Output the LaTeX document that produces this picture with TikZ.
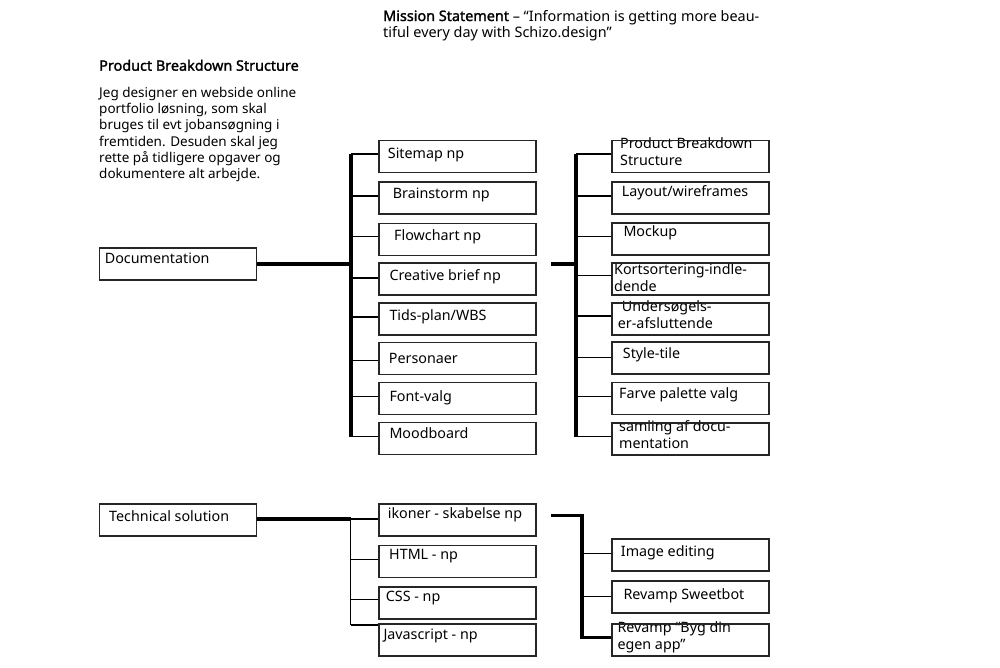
\documentclass[tikz,border=0pt]{standalone}
\usepackage{fontspec}
\setmainfont{Noto Sans}
\newfontfamily\pbsheadfont{Noto Sans}[FakeBold=1.6]
\begin{document}
\begin{tikzpicture}[x=1pt,y=-1pt,
  boxst/.style={draw=black!85, line width=1.8pt, minimum width=157pt, minimum height=32pt, inner sep=0pt, anchor=north west},
  txt/.style={anchor=base west, inner sep=0pt, align=left, font=\fontsize{14.3}{17}\selectfont},
  para/.style={anchor=base west, inner sep=0pt, align=left, font=\fontsize{13.5}{16.2}\selectfont},
  head/.style={anchor=base west, inner sep=0pt, align=left, font=\fontsize{14.4}{16.8}\selectfont},
  thin/.style={line width=1.7pt},
  thick/.style={line width=4pt},
  spine/.style={line width=3.3pt}]
\useasboundingbox (0,0) rectangle (1000,667);
% headings (base anchor = baseline of the last line)
\node[head] (mission) at (383,37.8) {{\pbsheadfont Mission Statement} – “Information is getting more beau-\\tiful every day with Schizo.design”};
\node[head] (pbstitle) at (99,70.7) {\pbsheadfont Product Breakdown Structure};
\node[para] (intro) at (99,178.5) {Jeg designer en webside online\\portfolio løsning, som skal\\bruges til evt jobansøgning i\\fremtiden. Desuden skal jeg\\rette på tidligere opgaver og\\dokumentere alt arbejde.};
% texts
\node[txt] (t-doc) at (104.7,263.3) {Documentation};
\node[txt] (t-site) at (387.7,158.3) {Sitemap np};
\node[txt] (t-brain) at (392.7,198.3) {Brainstorm np};
\node[txt] (t-flow) at (394,240.7) {Flowchart np};
\node[txt] (t-crea) at (389.3,280) {Creative brief np};
\node[txt] (t-tids) at (389.3,320.7) {Tids-plan/WBS};
\node[txt] (t-pers) at (388.7,363.3) {Personaer};
\node[txt] (t-font) at (389.3,401.7) {Font-valg};
\node[txt] (t-mood) at (389.3,438.3) {Moodboard};
\node[txt] (t-pbs) at (620,165.5) {Product Breakdown\\Structure};
\node[txt] (t-lay) at (621.7,196.7) {Layout/wireframes};
\node[txt] (t-mock) at (623.3,236.7) {Mockup};
\node[txt] (t-kort) at (614,291.5) {Kortsortering-indle-\\dende};
\node[txt] (t-und) at (617.7,328.5) {\hspace*{4pt}Undersøgels-\\er-afsluttende};
\node[txt] (t-style) at (622.7,358.3) {Style-tile};
\node[txt] (t-farve) at (619,398.3) {Farve palette valg};
\node[txt] (t-saml) at (619,448) {samling af docu-\\mentation};
\node[txt] (t-tech) at (109,521.7) {Technical solution};
\node[txt] (t-ikon) at (387.7,518.3) {ikoner - skabelse np};
\node[txt] (t-html) at (389,559.3) {HTML - np};
\node[txt] (t-css) at (385.7,601.7) {CSS - np};
\node[txt] (t-js) at (383.3,639) {Javascript - np};
\node[txt] (t-img) at (620.7,556.7) {Image editing};
\node[txt] (t-swe) at (623.3,599) {Revamp Sweetbot};
\node[txt] (t-byg) at (617.3,649.5) {Revamp “Byg din\\egen app”};
% boxes
\node[boxst] (doc) at (98.5,247) {};
\node[boxst] (site) at (378,139.5) {};
\node[boxst] (brain) at (378,181) {};
\node[boxst] (flow) at (378,222.5) {};
\node[boxst] (crea) at (378,262) {};
\node[boxst] (tids) at (378,302) {};
\node[boxst] (pers) at (378,341.5) {};
\node[boxst] (font) at (378,381.5) {};
\node[boxst] (mood) at (378,421.5) {};
\node[boxst] (pbs) at (611,139.5) {};
\node[boxst] (lay) at (611,181) {};
\node[boxst] (mock) at (611,222) {};
\node[boxst] (kort) at (611,262) {};
\node[boxst] (und) at (611,302) {};
\node[boxst] (style) at (611,341) {};
\node[boxst] (farve) at (611,381.5) {};
\node[boxst] (saml) at (611,422) {};
\node[boxst] (tech) at (98.5,503) {};
\node[boxst] (ikon) at (378,503) {};
\node[boxst] (html) at (378,544.5) {};
\node[boxst] (css) at (378,586) {};
\node[boxst] (js) at (378,623) {};
\node[boxst] (img) at (611,538) {};
\node[boxst] (swe) at (611,580) {};
\node[boxst] (byg) at (611,623) {};
% documentation tree, middle
\coordinate (m1) at (351,154);
\coordinate (m2) at (351,196);
\coordinate (m3) at (351,236.5);
\coordinate (m4) at (351,278);
\coordinate (m5) at (351,317);
\coordinate (m6) at (351,360.5);
\coordinate (m7) at (351,396.5);
\coordinate (m8) at (351,436.5);
\coordinate (mj) at (351,263.5);
\draw[thick] (doc.east |- mj) -- (mj);
\draw[spine] (m1) -- (m8);
\foreach \c/\b in {m1/site,m2/brain,m3/flow,m4/crea,m5/tids,m6/pers,m7/font,m8/mood}
  \draw[thin] (\c) -- (\c -| \b.west);
% documentation tree, right
\coordinate (stubA) at (551,263.5);
\coordinate (rj) at (576,263.5);
\coordinate (r1) at (576,154);
\coordinate (r2) at (576,196);
\coordinate (r3) at (576,236.5);
\coordinate (r4) at (576,275.5);
\coordinate (r5) at (576,316);
\coordinate (r6) at (576,357.5);
\coordinate (r7) at (576,396.5);
\coordinate (r8) at (576,436.5);
\draw[thick] (stubA) -- (rj);
\draw[spine] (r1) -- (r8);
\foreach \c/\b in {r1/pbs,r2/lay,r3/mock,r4/kort,r5/und,r6/style,r7/farve,r8/saml}
  \draw[thin] (\c) -- (\c -| \b.west);
% technical tree, middle
\coordinate (b1) at (350.5,519);
\coordinate (b2) at (350.5,559.5);
\coordinate (b3) at (350.5,599.5);
\coordinate (b4) at (350.5,625);
\draw[thick] (tech.east |- b1) -- (b1);
\draw[thin] (b1) -- (b4);
\foreach \c/\b in {b1/ikon,b2/html,b3/css,b4/js}
  \draw[thin] (\c) -- (\c -| \b.west);
% technical tree, right
\coordinate (stubB) at (551,515.5);
\coordinate (q0) at (582,515.5);
\coordinate (q1) at (582,553.5);
\coordinate (q2) at (582,596.5);
\coordinate (q3) at (582,637.5);
\draw[spine, line join=miter] (stubB) -- (q0) -- (q3) -- (q3 -| byg.west);
\foreach \c/\b in {q1/img,q2/swe}
  \draw[thin] (\c) -- (\c -| \b.west);
\end{tikzpicture}
\end{document}
